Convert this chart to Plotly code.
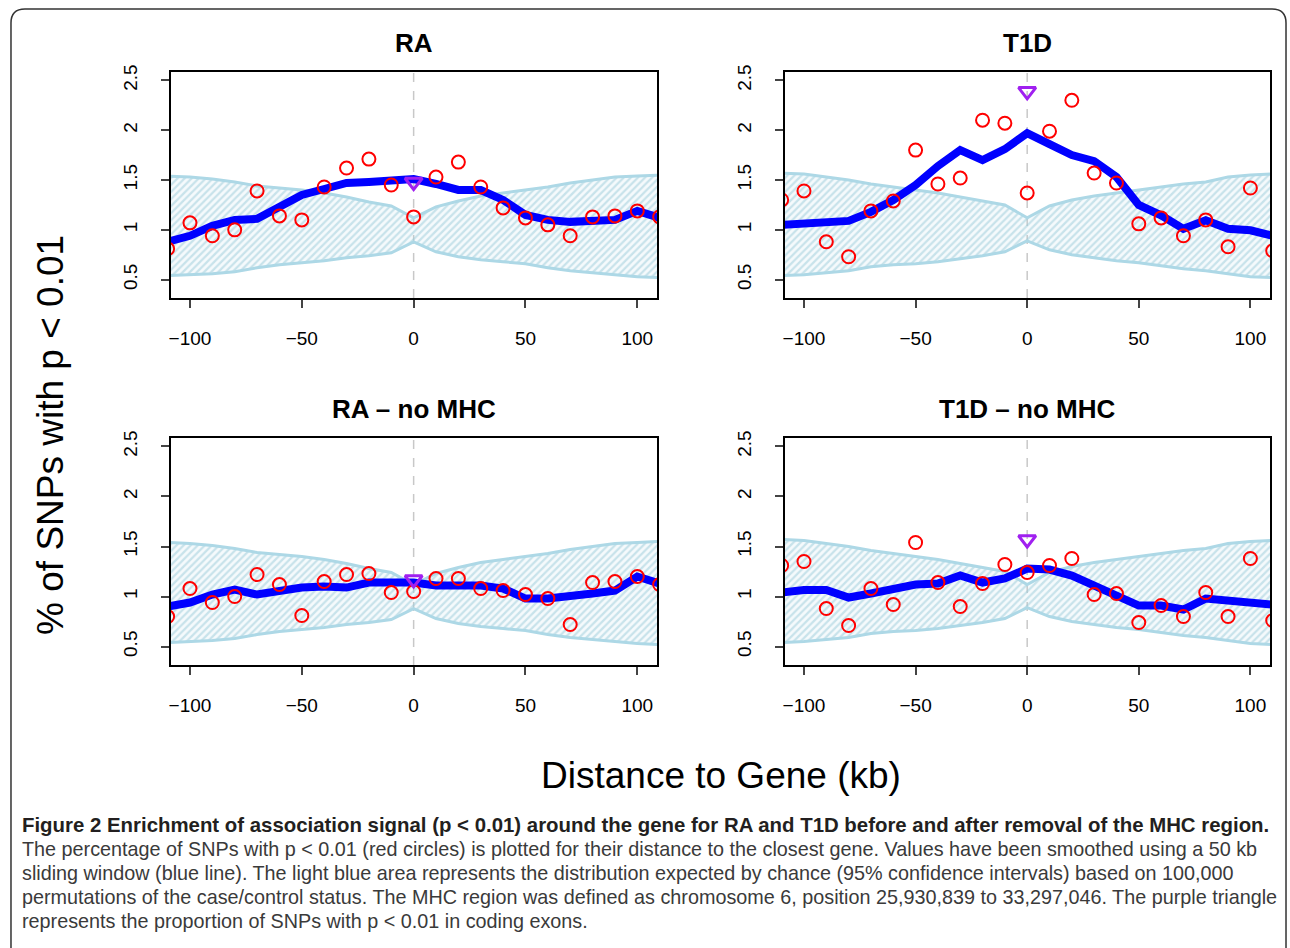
import plotly.graph_objects as go

W, H = 1290, 948

# distance to gene (kb); the outer two are cut by the plot box
x_kb = [-110, -100, -90, -80, -70, -60, -50, -40, -30, -20, -10, 0,
        10, 20, 30, 40, 50, 60, 70, 80, 90, 100, 110]

ra_points = [0.81, 1.07, 0.94, 1.00, 1.39, 1.14, 1.10, 1.43, 1.62, 1.71, 1.45, 1.13,
             1.53, 1.68, 1.43, 1.22, 1.12, 1.05, 0.94, 1.13, 1.14, 1.19, 1.13]
ra_smooth = [0.88, 0.94, 1.04, 1.10, 1.11, 1.23, 1.35, 1.41, 1.47, 1.48, 1.50, 1.51,
             1.46, 1.40, 1.40, 1.30, 1.15, 1.10, 1.08, 1.09, 1.10, 1.19, 1.12]

t1d_points = [1.30, 1.39, 0.88, 0.73, 1.19, 1.29, 1.80, 1.46, 1.52, 2.10, 2.07, 1.37,
              1.99, 2.30, 1.57, 1.47, 1.06, 1.12, 0.94, 1.10, 0.83, 1.42, 0.79]
t1d_smooth = [1.05, 1.07, 1.085, 1.09, 1.18, 1.30, 1.45, 1.64, 1.80, 1.70, 1.81, 1.97,
              1.86, 1.75, 1.69, 1.53, 1.25, 1.145, 1.01, 1.095, 1.01, 0.995, 0.94]

ra_nomhc_points = [0.80, 1.08, 0.94, 1.00, 1.22, 1.12, 0.81, 1.15, 1.22, 1.23, 1.04, 1.05,
                   1.18, 1.18, 1.08, 1.06, 1.02, 0.98, 0.72, 1.14, 1.15, 1.20, 1.12]
ra_nomhc_smooth = [0.90, 0.94, 1.02, 1.07, 1.02, 1.06, 1.09, 1.10, 1.09, 1.14, 1.14, 1.14,
                   1.11, 1.11, 1.11, 1.08, 0.98, 0.98, 1.00, 1.03, 1.06, 1.20, 1.13]

t1d_nomhc_points = [1.31, 1.35, 0.88, 0.71, 1.08, 0.92, 1.54, 1.14, 0.90, 1.13, 1.32, 1.24,
                    1.31, 1.38, 1.02, 1.03, 0.74, 0.91, 0.80, 1.04, 0.80, 1.38, 0.76]
t1d_nomhc_smooth = [1.04, 1.065, 1.065, 0.99, 1.03, 1.08, 1.12, 1.13, 1.21, 1.14, 1.18, 1.28,
                    1.27, 1.21, 1.11, 1.03, 0.91, 0.91, 0.87, 0.98, 0.96, 0.96, 0.92]

# permutation 95% interval
ra_upper = [1.54, 1.53, 1.51, 1.48, 1.44, 1.42, 1.40, 1.37, 1.33, 1.28, 1.24, 1.12,
            1.23, 1.29, 1.34, 1.37, 1.40, 1.43, 1.47, 1.50, 1.53, 1.54, 1.55]
ra_lower = [0.54, 0.55, 0.56, 0.58, 0.62, 0.65, 0.67, 0.69, 0.72, 0.74, 0.77, 0.88,
            0.78, 0.73, 0.70, 0.68, 0.66, 0.62, 0.59, 0.57, 0.55, 0.53, 0.52]
t1d_upper = [1.57, 1.56, 1.53, 1.50, 1.46, 1.43, 1.40, 1.37, 1.33, 1.29, 1.25, 1.12,
             1.24, 1.30, 1.34, 1.37, 1.40, 1.43, 1.46, 1.48, 1.53, 1.55, 1.56]
t1d_lower = [0.54, 0.55, 0.57, 0.59, 0.63, 0.65, 0.66, 0.68, 0.71, 0.74, 0.78, 0.89,
             0.80, 0.75, 0.72, 0.69, 0.67, 0.64, 0.61, 0.59, 0.56, 0.53, 0.52]

exon_x = 0
exon_y = [1.48, 2.39, 1.17, 1.57]

titles = ["RA", "T1D", "RA \u2013 no MHC", "T1D \u2013 no MHC"]
y_ticks = [0.5, 1, 1.5, 2, 2.5]
y_ticktext = ["0.5", "1", "1.5", "2", "2.5"]
x_ticks = [-100, -50, 0, 50, 100]

caption_bold = ("Figure 2 Enrichment of association signal (p < 0.01) around the gene for RA "
                "and T1D before and after removal of the MHC region.")
caption_lines = [
    "The percentage of SNPs with p < 0.01 (red circles) is plotted for their distance to the closest gene. Values have been smoothed using a 50 kb",
    "sliding window (blue line). The light blue area represents the distribution expected by chance (95% confidence intervals) based on 100,000",
    "permutations of the case/control status. The MHC region was defined as chromosome 6, position 25,930,839 to 33,297,046. The purple triangle",
    "represents the proportion of SNPs with p < 0.01 in coding exons.",
]

FONT = "Liberation Sans, Arial, Helvetica, sans-serif"

# plot boxes in pixels: (left, right, top, bottom)
boxes = [(169, 656, 72, 298), (784, 1270, 72, 298),
         (169, 656, 438, 665), (784, 1270, 438, 665)]

# the page showed the paper about 8px lower at the top, so map pixel rows onto 940px
TOP, SPAN = 8, 940


def px(x):
    return x / W


def py(y):
    return 1 - (y - TOP) / SPAN


panels = [
    (ra_points, ra_smooth, ra_upper, ra_lower),
    (t1d_points, t1d_smooth, t1d_upper, t1d_lower),
    (ra_nomhc_points, ra_nomhc_smooth, ra_upper, ra_lower),
    (t1d_nomhc_points, t1d_nomhc_smooth, t1d_upper, t1d_lower),
]

fig = go.Figure()

for i, (pts, smooth, up, lo) in enumerate(panels):
    n = "" if i == 0 else str(i + 1)
    xr, yr = "x" + n, "y" + n
    # band as one closed polygon
    fig.add_trace(go.Scatter(
        x=x_kb + x_kb[::-1], y=up + lo[::-1], xaxis=xr, yaxis=yr,
        mode="lines", fill="toself",
        line=dict(color="#add8e6", width=3),
        fillcolor="rgba(173,216,230,0.12)",
        fillpattern=dict(shape="/", fgcolor="#9acbd9", bgcolor="rgba(173,216,230,0.12)",
                         size=5, solidity=0.45),
        hoverinfo="skip", showlegend=False))
    fig.add_trace(go.Scatter(
        x=x_kb, y=smooth, xaxis=xr, yaxis=yr, mode="lines",
        line=dict(color="#0000ff", width=8), showlegend=False))
    fig.add_trace(go.Scatter(
        x=x_kb, y=pts, xaxis=xr, yaxis=yr, mode="markers",
        marker=dict(symbol="circle-open", size=13, color="#ff0000", line=dict(width=2)),
        showlegend=False))
    fig.add_trace(go.Scatter(
        x=[exon_x], y=[exon_y[i]], xaxis=xr, yaxis=yr, mode="markers",
        marker=dict(symbol="triangle-down-open", size=15, color="#a020f0", line=dict(width=3)),
        showlegend=False))

    l, r, t, b = boxes[i]
    fig.update_layout({
        "xaxis" + n: dict(domain=[px(l), px(r)], anchor=yr, range=[-108.6, 108.8],
                          tickvals=x_ticks, ticks="outside", ticklen=8, tickwidth=1.5,
                          showline=True, linewidth=2, linecolor="black", mirror=True,
                          showgrid=False, zeroline=False, ticklabelstandoff=14,
                          tickfont=dict(family=FONT, size=19, color="black")),
        "yaxis" + n: dict(domain=[py(b), py(t)], anchor=xr, range=[0.316, 2.584],
                          tickvals=y_ticks, ticktext=y_ticktext, tickangle=-90,
                          ticks="outside", ticklen=8, tickwidth=1.5,
                          showline=True, linewidth=2, linecolor="black", mirror=True,
                          showgrid=False, zeroline=False, ticklabelstandoff=16,
                          tickfont=dict(family=FONT, size=19, color="black")),
    })
    fig.add_shape(type="line", x0=0, x1=0, y0=0, y1=1, xref=xr, yref=yr + " domain",
                  line=dict(color="#c8c8c8", width=1.5, dash="dash"), layer="below")
    fig.add_annotation(x=px((l + r) / 2), y=py(t - 29), xref="paper", yref="paper",
                       xanchor="center", yanchor="middle",
                       text="<b>%s</b>" % titles[i], showarrow=False,
                       font=dict(family=FONT, size=26, color="black"))

fig.add_annotation(x=px(720), y=py(775), xref="paper", yref="paper", showarrow=False,
                   xanchor="center", yanchor="middle",
                   text="Distance to Gene (kb)", font=dict(family=FONT, size=37, color="black"))
fig.add_annotation(x=px(48), y=py(435), xref="paper", yref="paper", showarrow=False,
                   xanchor="center", yanchor="middle",
                   text="% of SNPs with p < 0.01", textangle=-90,
                   font=dict(family=FONT, size=37, color="black"))

fig.add_annotation(x=px(18), y=py(825), xref="paper", yref="paper", xanchor="left",
                   yanchor="middle", showarrow=False, text="<b>%s</b>" % caption_bold,
                   font=dict(family=FONT, size=20.4, color="#231f20"))
for k, line in enumerate(caption_lines):
    fig.add_annotation(x=px(18), y=py(849 + 24 * k), xref="paper", yref="paper", xanchor="left",
                       yanchor="middle", showarrow=False, text=line,
                       font=dict(family=FONT, size=19.8, color="#3a3a3a"))

# rounded frame around the figure
x0, x1, y0, y1, rad = 9, 1286, 9, 960, 14
frame = ("M {a},{b} L {a},{c} Q {a},{d} {e},{d} L {f},{d} Q {g},{d} {g},{c} L {g},{b}"
         .format(a=px(x0), b=py(y1), c=py(y0 + rad), d=py(y0), e=px(x0 + rad),
                 f=px(x1 - rad), g=px(x1)))
fig.add_shape(type="path", path=frame, xref="paper", yref="paper",
              line=dict(color="#333333", width=1.5))

fig.update_layout(width=W, height=H, margin=dict(l=0, r=0, t=0, b=0),
                  plot_bgcolor="white", paper_bgcolor="white", showlegend=False)

# drop the page's default body margin so the figure sits at the window corner
fig.write_html("out.html", config={"displayModeBar": False},
               post_script="document.body.style.margin='0';document.body.style.overflow='hidden';")
